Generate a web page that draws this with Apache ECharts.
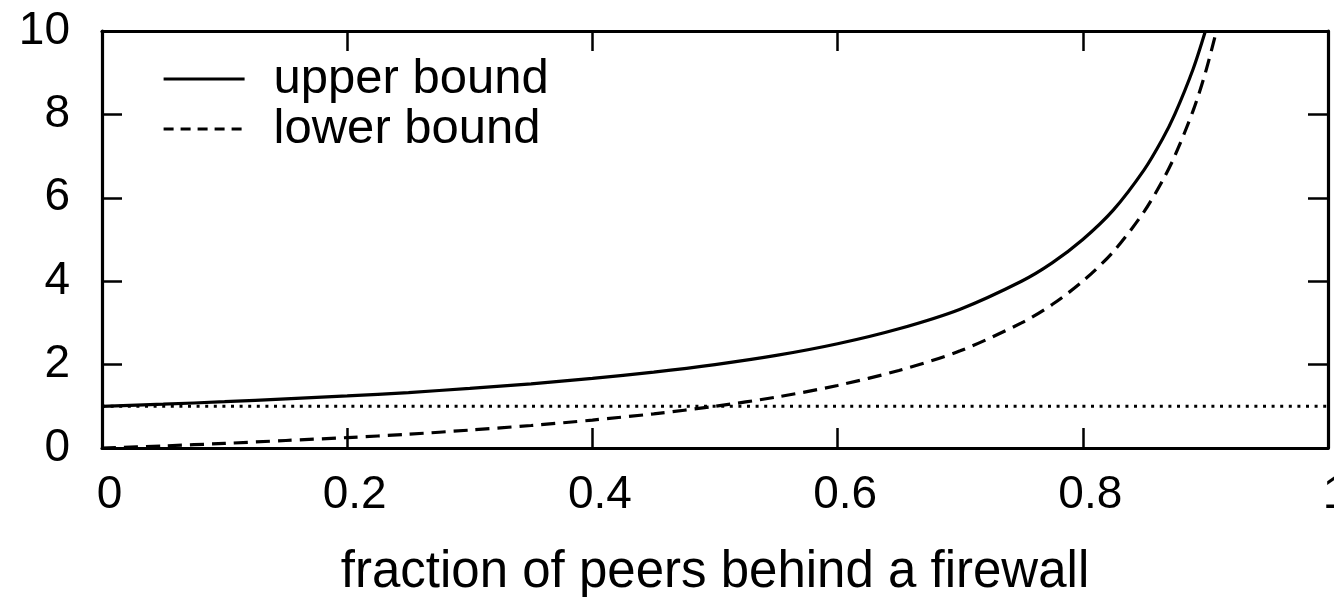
<!DOCTYPE html>
<html>
<head>
<meta charset="utf-8">
<script src="https://cdn.jsdelivr.net/npm/echarts@6/dist/echarts.min.js"></script>
<style>
html,body{margin:0;padding:0;background:#fff;}
#c{width:1334px;height:597px;}
</style>
</head>
<body>
<div id="c"></div>
<script>
// Data
var xTickLabels = ['0', '0.2', '0.4', '0.6', '0.8', '1'];
var yTickLabels = ['0', '2', '4', '6', '8', '10'];
var seriesNames = ['upper bound', 'lower bound'];

var xUpper = [0, 0.05, 0.1, 0.15, 0.2, 0.25, 0.3, 0.35, 0.4, 0.45, 0.5, 0.55, 0.6, 0.65, 0.7, 0.75, 0.775, 0.8, 0.825, 0.85, 0.865, 0.875, 0.89, 0.9];
var yUpper = [1.0, 1.05, 1.11, 1.18, 1.25, 1.33, 1.43, 1.54, 1.67, 1.82, 2.0, 2.22, 2.5, 2.86, 3.33, 4.0, 4.44, 5.0, 5.71, 6.67, 7.41, 8.0, 9.09, 10.0];

var xLower = [0, 0.05, 0.1, 0.15, 0.2, 0.25, 0.3, 0.35, 0.4, 0.45, 0.5, 0.55, 0.6, 0.65, 0.7, 0.75, 0.775, 0.8, 0.825, 0.85, 0.865, 0.875, 0.89, 0.9, 0.909];
var yLower = [0.0, 0.05, 0.11, 0.18, 0.25, 0.33, 0.43, 0.54, 0.67, 0.82, 1.0, 1.22, 1.5, 1.86, 2.33, 3.0, 3.44, 4.0, 4.71, 5.67, 6.41, 7.0, 8.09, 9.0, 10.0];

var xRef = [0, 1];
var yRef = [1, 1];

var xTitle = 'fraction of peers behind a firewall';

function pairs(xs, ys) { return xs.map(function (x, i) { return [x, ys[i]]; }); }

var FONT = '"Liberation Sans", Arial, Helvetica, sans-serif';
var chart = echarts.init(document.getElementById('c'), null, {renderer: 'canvas'});

var tickStyle = {show: true, inside: true, length: 20, lineStyle: {color: '#000', width: 2.5}};
var lineAxis = {show: true, onZero: false, lineStyle: {color: '#000', width: 3.2}};

chart.setOption({
  animation: false,
  backgroundColor: '#fff',
  grid: {left: 102, right: 6, top: 31, bottom: 149, containLabel: false, outerBoundsMode: 'none'},
  legend: {
    show: true,
    orient: 'vertical',
    left: 157,
    top: 49,
    icon: 'inherit',
    itemWidth: 81,
    itemHeight: 14,
    itemGap: 0,
    itemStyle: {opacity: 0},
    textStyle: {fontFamily: FONT, fontSize: 49, color: '#000', lineHeight: 50, padding: [0, 0, 0, 24]},
    data: [
      {name: seriesNames[0], lineStyle: {width: 3.2, type: 'solid'}},
      {name: seriesNames[1], lineStyle: {width: 3.2, type: [10, 7]}}
    ]
  },
  xAxis: [{
    type: 'value', min: 0, max: 1, interval: 0.2, position: 'bottom',
    axisLine: lineAxis, axisTick: tickStyle, splitLine: {show: false},
    name: xTitle, nameLocation: 'middle', nameGap: 99,
    nameTextStyle: {fontFamily: FONT, fontSize: 51, color: '#000'},
    axisLabel: {
      fontFamily: FONT, fontSize: 46, color: '#000', margin: 24, padding: [0, 0, 0, 15],
      formatter: function (v) { return xTickLabels[Math.round(v / 0.2)]; }
    }
  }, {
    type: 'value', min: 0, max: 1, interval: 0.2, position: 'top',
    axisLine: lineAxis, axisTick: tickStyle, axisLabel: {show: false}, splitLine: {show: false}
  }],
  yAxis: [{
    type: 'value', min: 0, max: 10, interval: 2, position: 'left',
    axisLine: lineAxis, axisTick: tickStyle, splitLine: {show: false},
    axisLabel: {
      fontFamily: FONT, fontSize: 46, color: '#000', margin: 32,
      formatter: function (v) { return yTickLabels[Math.round(v / 2)]; }
    }
  }, {
    type: 'value', min: 0, max: 10, interval: 2, position: 'right',
    axisLine: lineAxis, axisTick: tickStyle, axisLabel: {show: false}, splitLine: {show: false}
  }],
  series: [{
    name: seriesNames[0], type: 'line', data: pairs(xUpper, yUpper),
    showSymbol: false, symbol: 'none', smooth: 0.3,
    lineStyle: {color: '#000', width: 3.2, type: 'solid'}, itemStyle: {color: '#000'}, z: 3
  }, {
    name: seriesNames[1], type: 'line', data: pairs(xLower, yLower),
    showSymbol: false, symbol: 'none', smooth: 0.3,
    lineStyle: {color: '#000', width: 3.2, type: [14, 8]}, itemStyle: {color: '#000'}, z: 3
  }, {
    name: 'ref', type: 'line', data: pairs(xRef, yRef),
    showSymbol: false, symbol: 'none',
    lineStyle: {color: '#000', width: 3, type: [3, 5.6]}, itemStyle: {color: '#000'}, z: 2
  }]
});
</script>
</body>
</html>
